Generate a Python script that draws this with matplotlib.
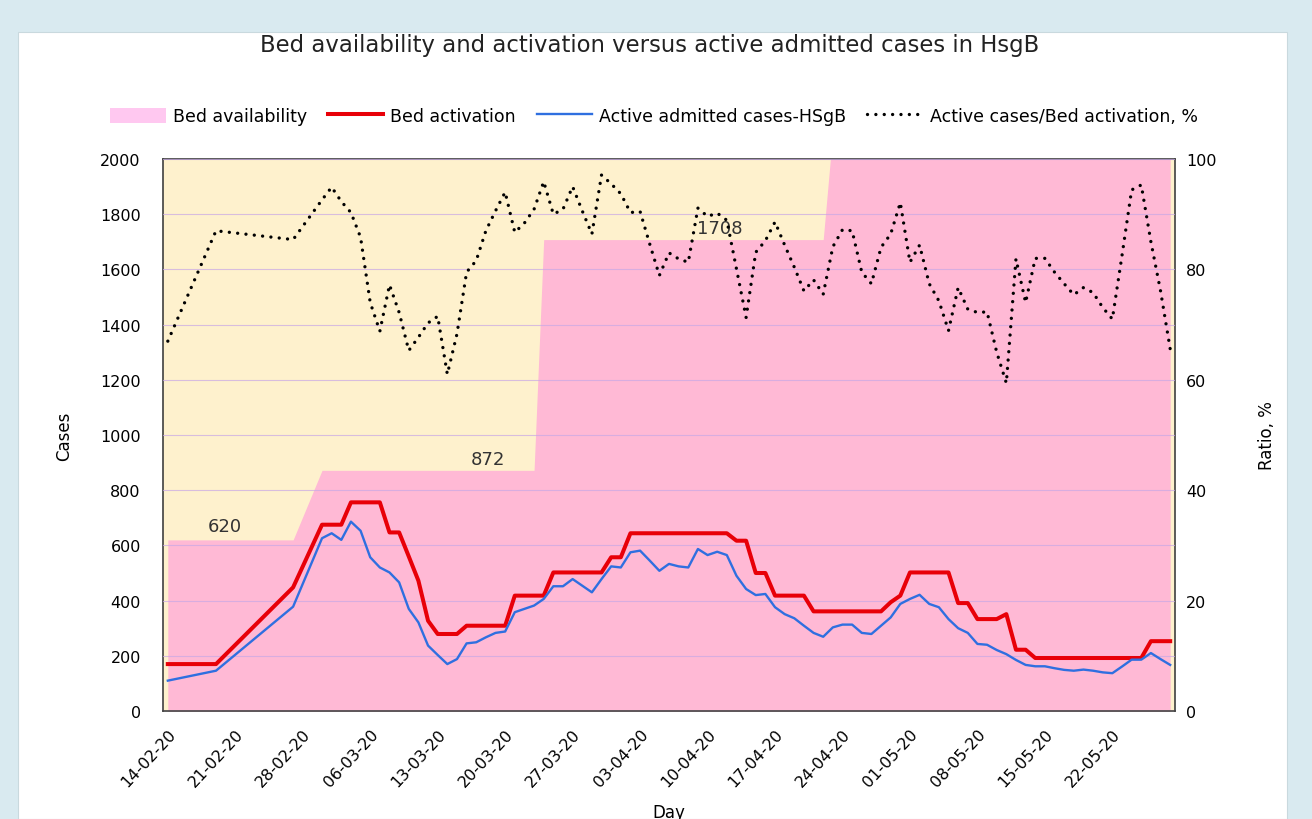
import matplotlib.pyplot as plt
from matplotlib.patches import Patch, Rectangle
from matplotlib.lines import Line2D

# day offsets from 14-02-20 (no data on 15-18/02 and 28-29/02)
days = [0, 5, 13] + list(range(16, 105))

bed_avail = [620] * 3 + [872] * 23 + [1708] * 30 + [2100] * 36

bed_activation = [170, 170, 448,
                  675, 675, 675, 756, 756, 756, 756, 647, 647, 560,
                  472, 327, 279, 279, 279, 309, 309, 309, 309, 309,
                  418, 418, 418, 418, 502, 502, 502, 502, 502, 502,
                  557, 557, 644, 644, 644, 644, 644, 644, 644, 644,
                  644, 644, 644, 617, 617, 500, 500, 418, 418, 418,
                  418, 361, 361, 361, 361, 361, 361, 361, 361, 394,
                  418, 502, 502, 502, 502, 502, 391, 391, 333, 333,
                  333, 351, 222, 222, 192, 192, 192, 192, 192, 192,
                  192, 192, 192, 192, 192, 192, 253, 253, 253]

active_cases = [110, 146, 378,
                626, 644, 620, 686, 653, 557, 520, 502, 466, 370,
                321, 237, 203, 170, 188, 245, 249, 267, 283, 288,
                358, 370, 382, 406, 452, 452, 478, 454, 430, 478,
                524, 520, 575, 581, 545, 508, 533, 524, 520, 587,
                565, 577, 565, 490, 442, 420, 424, 376, 351, 336,
                309, 283, 269, 303, 313, 313, 283, 279, 309, 339,
                388, 406, 421, 388, 376, 333, 300, 283, 243, 240,
                221, 206, 185, 167, 162, 162, 155, 149, 146, 150,
                146, 140, 137, 161, 186, 186, 210, 188, 167]

ratio = [67.0, 87.0, 85.4,
         92.6, 94.9, 92.3, 90.3, 85.8, 74.0, 68.8, 77.2, 72.2, 65.3,
         67.7, 70.3, 71.5, 61.0, 68.3, 79.5, 81.6, 87.0, 90.6, 94.0,
         86.7, 88.4, 90.9, 95.9, 90.0, 90.9, 95.0, 90.6, 86.4, 97.1,
         95.5, 93.7, 90.3, 90.5, 84.6, 78.9, 83.0, 81.9, 81.3, 91.1,
         89.6, 90.2, 88.9, 80.1, 71.3, 83.1, 85.2, 88.6, 84.4, 80.4,
         76.1, 78.1, 75.5, 84.1, 87.2, 87.0, 79.5, 77.4, 84.0, 86.4,
         92.1, 81.3, 84.4, 77.4, 74.3, 68.9, 76.7, 72.8, 72.2, 72.3,
         65.0, 59.4, 81.9, 74.0, 82.0, 82.0, 79.5, 77.4, 75.4, 76.7,
         75.8, 73.1, 71.0, 82.5, 94.4, 95.3, 85.0, 76.1, 65.6]

tick_days = [0, 7, 14, 21, 28, 35, 42, 49, 56, 63, 70, 77, 84, 91, 98]
tick_labels = ["14-02-20", "21-02-20", "28-02-20", "06-03-20", "13-03-20",
               "20-03-20", "27-03-20", "03-04-20", "10-04-20", "17-04-20",
               "24-04-20", "01-05-20", "08-05-20", "15-05-20", "22-05-20"]

# labels written on the availability steps
step_labels = ["620", "872", "1708"]
step_pos = [(5.9, 670), (33.2, 913), (57.3, 1750)]

plt.rcParams['font.family'] = ['DejaVu Sans']

fig = plt.figure(figsize=(13.12, 8.2), dpi=100)
fig.patch.set_facecolor('#d9eaf0')
fig.add_artist(Rectangle((18 / 1312, 0), 1269 / 1312, 1 - 33 / 820,
                         transform=fig.transFigure, facecolor='white',
                         edgecolor='#c9d9de', lw=0.8, zorder=0))

ax = fig.add_axes([163 / 1312, 1 - 712 / 820, 1012 / 1312, 552 / 820])
ax.set_facecolor('#fef1cd')
ax.fill_between(days, bed_avail, color='#ffb9d5', lw=0, zorder=1)
ax.set_axisbelow(False)
ax.yaxis.grid(True, color='#c8a8e6', lw=0.8, alpha=0.7)
ax.plot(days, bed_activation, color='#e80008', lw=2.9, zorder=4,
        solid_joinstyle='round')
ax.plot(days, active_cases, color='#2f6fe0', lw=1.7, zorder=4)

for t, (px, py) in zip(step_labels, step_pos):
    ax.text(px, py, t, ha='center', va='center', fontsize=13, color='#333333', zorder=5)

ax.set_xlim(-0.5, 104.5)
ax.set_ylim(0, 2000)
ax.set_yticks(range(0, 2001, 200))
ax.set_xticks(tick_days)
ax.set_xticklabels(tick_labels, rotation=47, ha='right', va='top',
                   rotation_mode='anchor', fontsize=11.5)
ax.tick_params(axis='x', length=0, pad=11)
ax.tick_params(axis='y', length=0, pad=16, labelsize=11.5)
for s in ax.spines.values():
    s.set_color('#404040')
    s.set_linewidth(1.2)

ax2 = ax.twinx()
ax2.plot(days, ratio, color='black', lw=2.4, linestyle=(0, (0.01, 2.5)),
         dash_capstyle='round')
ax2.set_ylim(0, 100)
ax2.set_yticks(range(0, 101, 20))
ax2.tick_params(axis='y', length=0, pad=8, labelsize=11.5)
for s in ax2.spines.values():
    s.set_visible(False)

ax.set_xlabel('Day', fontsize=12)
ax.xaxis.set_label_coords(0.5, -0.166)
ax.set_ylabel('Cases', fontsize=12)
ax.yaxis.set_label_coords(-0.089, 0.5)
ax2.set_ylabel('Ratio, %', fontsize=12)
ax2.yaxis.set_label_coords(1.082, 0.5)

fig.text(0.4954, 0.944, 'Bed availability and activation versus active admitted cases in HsgB',
         ha='center', va='center', fontsize=16.4, color='#222222')

handles = [Patch(facecolor='#ffc8f0', edgecolor='none'),
           Line2D([], [], color='#e80008', lw=2.9),
           Line2D([], [], color='#2f6fe0', lw=1.7),
           Line2D([], [], color='black', lw=2.4, linestyle=(0, (0.01, 2.5)),
                  dash_capstyle='round')]
names = ['Bed availability', 'Bed activation', 'Active admitted cases-HSgB',
         'Active cases/Bed activation, %']
fig.legend(handles, names, loc='center', bbox_to_anchor=(0.4985, 0.857), ncol=4,
           frameon=False, fontsize=12.5, handlelength=3.2, handleheight=1.0,
           handletextpad=0.4, columnspacing=1.2)

fig.savefig('out.png', dpi=100, facecolor=fig.get_facecolor())
